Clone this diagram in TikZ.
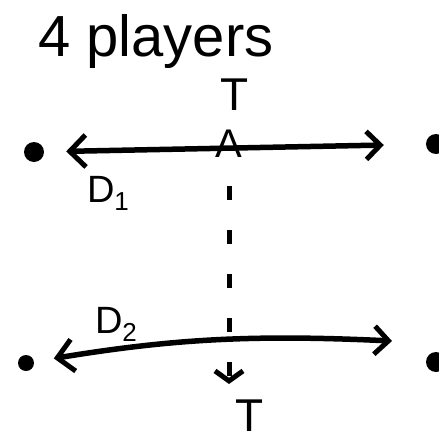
\documentclass[tikz,border=0pt]{standalone}
\usepackage{fontspec}
\setmainfont{Liberation Sans}
\usetikzlibrary{arrows.meta, positioning}

\newcommand\sub[1]{\lower8pt\hbox{\fontsize{26}{26}\selectfont#1}}

\begin{document}
\begin{tikzpicture}[
    x=1pt, y=-1pt,
dot/.style = {circle, fill, inner sep=0pt, minimum size=20pt},
lbl/.style = {inner sep=0pt, font=\fontsize{46}{46}\selectfont},
lnk/.style = {line width=5.5pt, line cap=round,
              {Straight Barb[length=16pt, width=32pt, line width=5pt]}-{Straight Barb[length=14pt, width=28pt, line width=5pt]}},
                        ]
\useasboundingbox (0,0) rectangle (439,442);
% title
\node (title) [lbl, font=\fontsize{58}{58}\selectfont, anchor=west] at (38,42) {4 players};
% players
\node (p1) [dot] at (34,152)  {};
\node (p2) [dot] at (436,144) {};
\node (p3) [dot, minimum size=16pt] at (26,363) {};
\node (p4) [dot] at (436,362) {};
\coordinate (e2) at (392,341);
% top edge
\draw[lnk, shorten <=22pt, shorten >=42pt] (p1) -- (p2);
\node (A)  [lbl, font=\fontsize{40}{40}\selectfont] at (229,144) {A};
\node (T1) [lbl] at (235,95) {T};
\node (D1) [lbl, font=\fontsize{38}{38}\selectfont] at (108,193) {D\sub{1}};
% bottom edge
\draw[lnk, shorten <=20pt] (p3) to[bend left=6] (e2);
\node (D2) [lbl, font=\fontsize{38}{38}\selectfont] at (116,324) {D\sub{2}};
\node (T2) [lbl] at (250,416) {T};
% move from A down to T
\draw[line width=5pt, dash pattern=on 14pt off 30pt, -{Straight Barb[length=10pt, width=28pt, line width=5pt]}]
    ([yshift=-28pt] A.south) -- ([yshift=16pt] T2.north -| A.south);
\end{tikzpicture}
\end{document}
